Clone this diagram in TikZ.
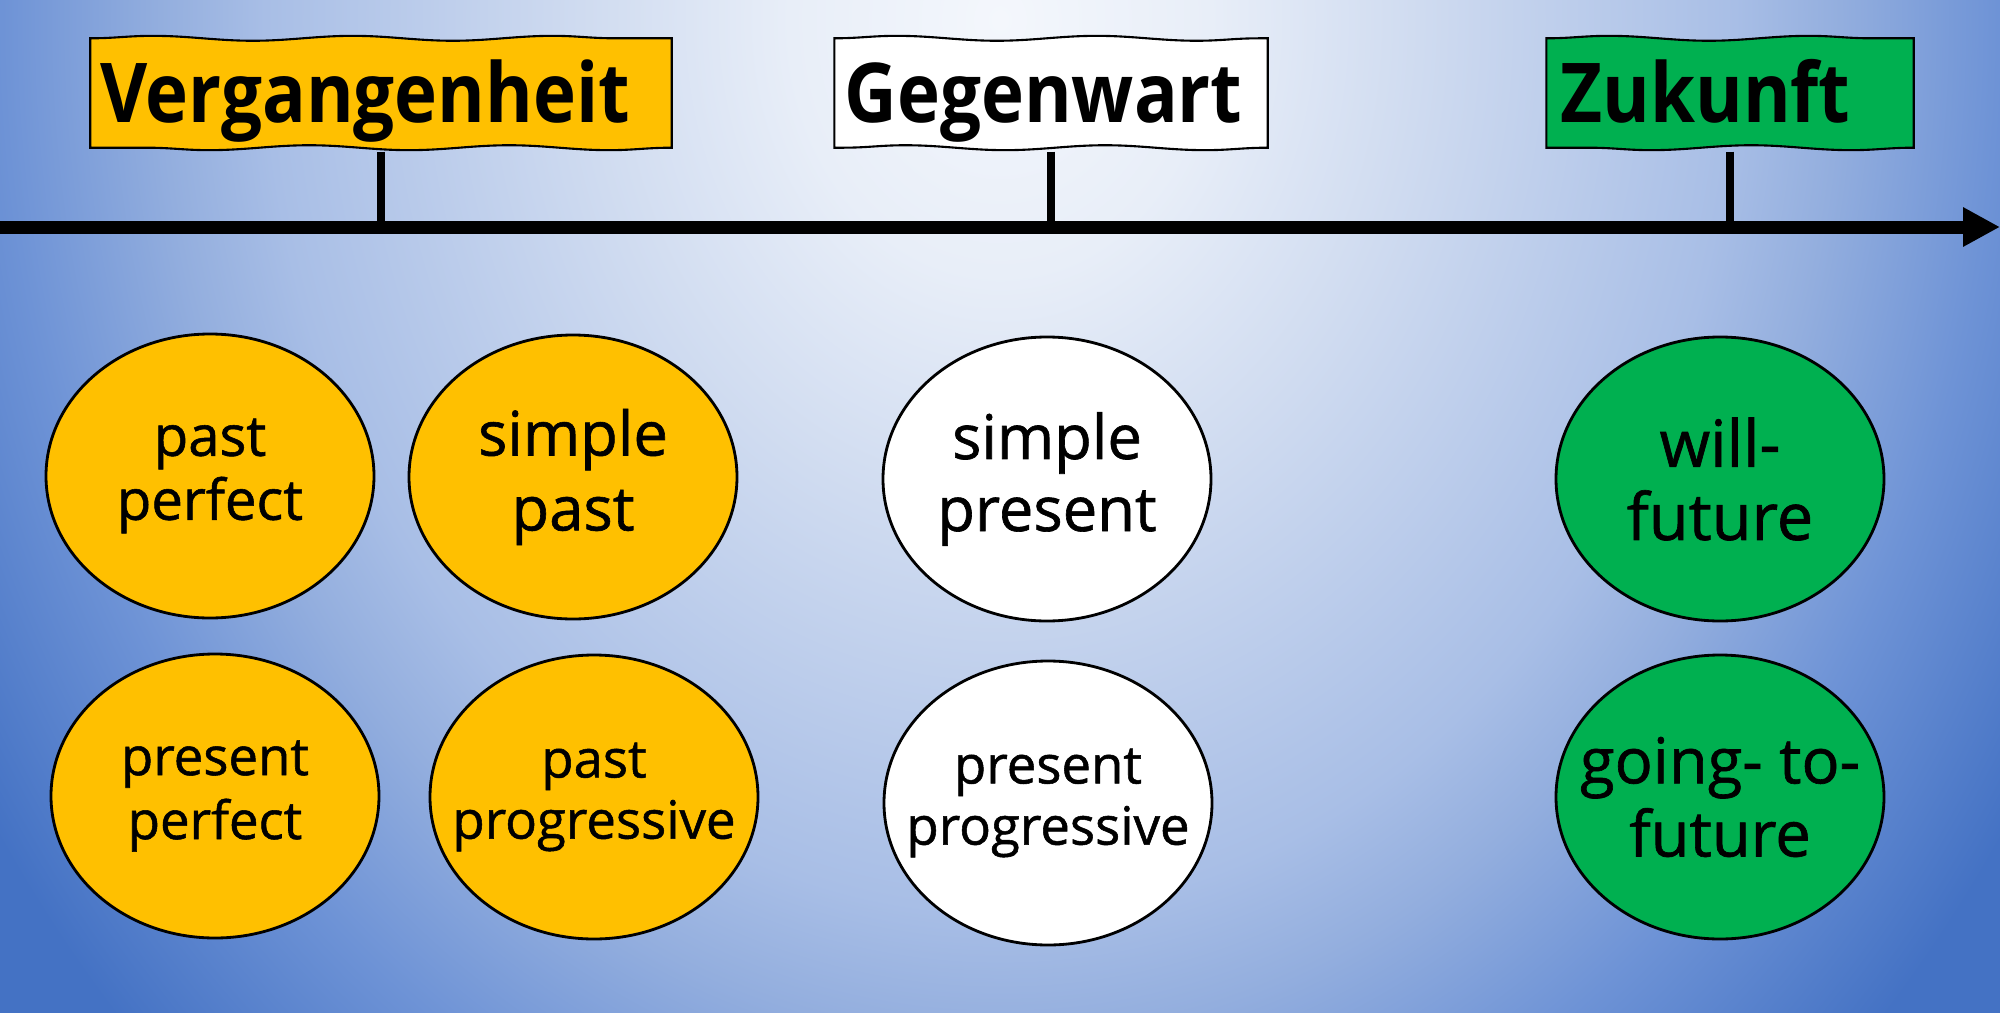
\documentclass[tikz,border=0pt]{standalone}
\usepackage{fontspec}
\setmainfont{Open Sans}
\newfontfamily\tensefont[FakeBold=1]{Open Sans}
\usetikzlibrary{shapes.geometric, arrows.meta, decorations.pathmorphing}
\definecolor{bgA}{HTML}{F4F7FC}
\definecolor{bgB}{HTML}{E8EEF8}
\definecolor{bgC}{HTML}{CFDBF0}
\definecolor{bgD}{HTML}{A8BEE6}
\definecolor{bgF}{HTML}{93AEDE}
\definecolor{bgG}{HTML}{6E93D6}
\definecolor{bgE}{HTML}{4472C4}
\definecolor{pastY}{HTML}{FFC000}
\definecolor{futG}{HTML}{00B050}
\pgfdeclareradialshading{bgshade}{\pgfpoint{0bp}{0bp}}{color(0bp)=(bgA); color(4bp)=(bgB); color(8bp)=(bgC); color(14bp)=(bgD); color(16bp)=(bgF); color(19bp)=(bgG); color(23bp)=(bgE); color(25bp)=(bgE); color(50bp)=(bgE)}
\begin{document}
\begin{tikzpicture}[
  tense/.style={ellipse, draw=black, line width=0.8pt, minimum width=3.28cm, minimum height=2.84cm, inner sep=0pt},
  tenselabel/.style={align=center, text=black, inner sep=0pt},
  tickline/.style={line width=2.3pt},
  axisline/.style={line width=3.7pt, -{Triangle[length=0.37cm, width=0.37cm]}},
  signbox/.style={minimum width=#1, minimum height=1.08cm, inner sep=0pt},
  signtext/.style={font=\fontsize{23.5}{26}\selectfont\bfseries, inner sep=0pt, anchor=base},
  wavy/.style={draw=black, line width=0.6pt, decoration={snake, amplitude=0.7pt, segment length=2cm}}
]
\useasboundingbox (0,0) rectangle (20,-10.13);
\begin{scope}
  \clip (0,0) rectangle (20,-10.13);
  \fill[bgE] (0,0) rectangle (20,-10.13);
  \shade[shading=bgshade] (10,-0.2) ellipse [x radius=13.125cm, y radius=15.9cm];
\end{scope}

% signs
\node[signbox=5.8cm] (vbox) at (3.81,-0.93) {};
\path[wavy, fill=pastY] (vbox.north west) decorate {-- (vbox.north east)} -- (vbox.south east) decorate {-- (vbox.south west)} -- cycle;
\node[signtext] (vtext) at (3.65,-1.22) {\scalebox{0.88}[1]{Vergangenheit}};

\node[signbox=4.32cm] (gbox) at (10.51,-0.93) {};
\path[wavy, fill=white] (gbox.north west) decorate {-- (gbox.north east)} -- (gbox.south east) decorate {-- (gbox.south west)} -- cycle;
\node[signtext] (gtext) at (10.435,-1.22) {\scalebox{0.88}[1]{Gegenwart}};

\node[signbox=3.66cm] (zbox) at (17.30,-0.93) {};
\path[wavy, fill=futG] (zbox.north west) decorate {-- (zbox.north east)} -- (zbox.south east) decorate {-- (zbox.south west)} -- cycle;
\node[signtext] (ztext) at (17.055,-1.22) {\scalebox{0.88}[1]{Zukunft}};

% axis
\coordinate (axL) at (0,-2.27);
\coordinate (axR) at (20,-2.27);
\draw[tickline] ([yshift=-0.04cm]vbox.south) -- (vbox.south |- axL);
\draw[tickline] ([yshift=-0.04cm]gbox.south) -- (gbox.south |- axL);
\draw[tickline] ([yshift=-0.04cm]zbox.south) -- (zbox.south |- axL);
\draw[axisline] (axL) -- (axR);

% tenses
\node[tense, fill=pastY] (pp) at (2.10,-4.76) {};
\node[tenselabel, font=\tensefont\fontsize{16}{18.2}\selectfont] (ppT) at (pp.center) {past\\perfect};
\node[tense, fill=pastY] (sp) at (5.73,-4.77) {};
\node[tenselabel, font=\tensefont\fontsize{17.5}{21.3}\selectfont] (spT) at (sp.center) {simple\\past};
\node[tense, fill=pastY] (prp) at (2.15,-7.96) {};
\node[tenselabel, font=\tensefont\fontsize{15}{18.2}\selectfont] (prpT) at (prp.center) {present\\perfect};
\node[tense, fill=pastY] (pprog) at (5.94,-7.97) {};
\node[tenselabel, font=\tensefont\fontsize{15}{17.4}\selectfont] (pprogT) at (pprog.center) {past\\progressive};
\node[tense, fill=white] (spr) at (10.47,-4.79) {};
\node[tenselabel, font=\tensefont\fontsize{17.5}{20.5}\selectfont] (sprT) at (spr.center) {simple\\present};
\node[tense, fill=white] (prprog) at (10.48,-8.03) {};
\node[tenselabel, font=\tensefont\fontsize{15}{17.4}\selectfont] (prprogT) at (prprog.center) {present\\progressive};
\node[tense, fill=futG] (wf) at (17.20,-4.79) {};
\node[tenselabel, font=\tensefont\fontsize{18.5}{20.8}\selectfont] (wfT) at (wf.center) {will-\\future};
\node[tense, fill=futG] (gf) at (17.20,-7.97) {};
\node[tenselabel, font=\tensefont\fontsize{18}{20.8}\selectfont] (gfT) at (gf.center) {going- to-\\future};
\end{tikzpicture}
\end{document}
